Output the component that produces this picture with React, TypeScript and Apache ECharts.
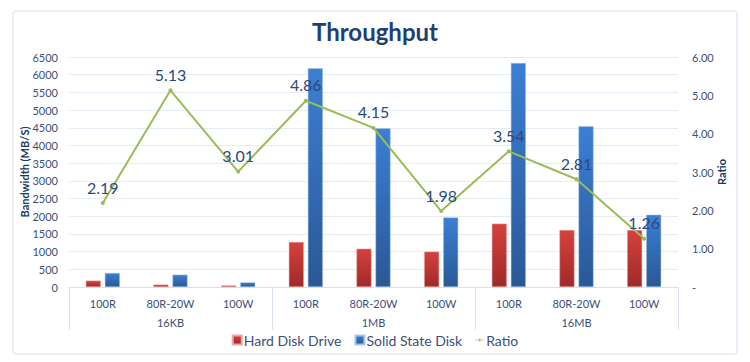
import React, { useEffect, useRef } from "react";
import * as echarts from "echarts";

const categories = ["100R", "80R-20W", "100W", "100R", "80R-20W", "100W", "100R", "80R-20W", "100W"];
const groups = ["16KB", "1MB", "16MB"];
const hddValues = [181, 68, 43, 1272, 1082, 998, 1790, 1611, 1611];
const ssdValues = [396, 348, 130, 6180, 4483, 1967, 6331, 4540, 2043];
const ratioValues = [2.19, 5.13, 3.01, 4.86, 4.15, 1.98, 3.54, 2.81, 1.26];
const seriesNames = ["Hard Disk Drive", "Solid State Disk", "Ratio"];

const FONT = "Lato, 'Open Sans', sans-serif";
const NAVY = "#203864";
const LABEL = "#3B4F7A";
const GRID = "#E6ECF5";

export default function App() {
  const ref = useRef<HTMLDivElement>(null);
  useEffect(() => {
    document.body.style.margin = "0";
    if (!ref.current) return;
    const chart = echarts.init(ref.current, undefined, { renderer: "svg" });
    chart.setOption({
      animation: false,
      backgroundColor: "#ffffff",
      textStyle: { fontFamily: FONT },
      title: {
        text: "Throughput",
        left: "center",
        top: 14,
        textStyle: { fontFamily: FONT, fontSize: 24, fontWeight: "bold", color: "#1F3F73" },
      },
      graphic: [
        {
          type: "rect",
          shape: { x: 13, y: 11, width: 724, height: 343, r: 3 },
          style: { fill: "none", stroke: "#D6E0F0", lineWidth: 1 },
          silent: true,
        },
      ],
      legend: {
        bottom: 10,
        left: "center",
        itemWidth: 9,
        itemHeight: 9,
        itemGap: 13,
        symbolKeepAspect: true,
        textStyle: { fontFamily: FONT, fontSize: 14, color: LABEL, padding: [0, 0, 0, -3] },
        data: [
          { name: seriesNames[0], icon: "rect" },
          { name: seriesNames[1], icon: "rect" },
          {
            name: seriesNames[2],
            icon: "path://M0,4.4h6v-1.4h3v1.4h6v1.2h-6v1.4h-3v-1.4h-6z",
          },
        ],
      },
      grid: { left: 69, right: 72, top: 57, bottom: 75, containLabel: false },
      xAxis: [
        {
          type: "category",
          data: categories,
          position: "bottom",
          axisLine: { show: true, lineStyle: { color: "#D9E1EE" } },
          axisTick: { show: false },
          axisLabel: { color: LABEL, fontSize: 11, margin: 11, fontFamily: FONT },
        },
        {
          type: "category",
          data: groups,
          position: "bottom",
          axisLine: { show: false },
          axisTick: { show: true, length: 43, lineStyle: { color: "#D9E1EE" } },
          axisLabel: { color: LABEL, fontSize: 11, margin: 30, fontFamily: FONT },
        },
      ],
      yAxis: [
        {
          type: "value",
          min: 0,
          max: 6500,
          interval: 500,
          name: "Bandwidth (MB/S)",
          nameLocation: "middle",
          nameRotate: 90,
          nameGap: 39,
          nameMoveOverlap: false,
          nameTextStyle: { color: NAVY, fontSize: 11, fontWeight: "bold", fontFamily: FONT },
          axisLine: { show: false },
          axisTick: { show: false },
          axisLabel: {
            color: LABEL,
            fontSize: 11,
            margin: 11,
            fontFamily: FONT,
            formatter: (v: number) => String(v),
          },
          splitLine: { show: true, lineStyle: { color: GRID } },
        },
        {
          type: "value",
          min: 0,
          max: 6,
          interval: 1,
          name: "Ratio",
          nameLocation: "middle",
          nameRotate: 90,
          nameGap: 38,
          nameMoveOverlap: false,
          nameTextStyle: { color: NAVY, fontSize: 11, fontWeight: "bold", fontFamily: FONT },
          axisLine: { show: false },
          axisTick: { show: false },
          axisLabel: {
            color: LABEL,
            fontSize: 11,
            margin: 14,
            fontFamily: FONT,
            formatter: (v: number) => (v === 0 ? "-" : v.toFixed(2)),
          },
          splitLine: { show: false },
        },
      ],
      series: [
        {
          name: seriesNames[0],
          type: "bar",
          xAxisIndex: 0,
          yAxisIndex: 0,
          data: hddValues,
          barWidth: 15,
          barGap: "27%",
          itemStyle: {
            color: new echarts.graphic.LinearGradient(0, 0, 0, 1, [
              { offset: 0, color: "#D5423C" },
              { offset: 1, color: "#A0292A" },
            ]),
            borderColor: "#E7A9A6",
            borderWidth: 0.5,
          },
        },
        {
          name: seriesNames[1],
          type: "bar",
          xAxisIndex: 0,
          yAxisIndex: 0,
          data: ssdValues,
          barWidth: 15,
          barGap: "27%",
          itemStyle: {
            color: new echarts.graphic.LinearGradient(0, 0, 0, 1, [
              { offset: 0, color: "#3B7FD4" },
              { offset: 1, color: "#2A5896" },
            ]),
            borderColor: "#A9C4EA",
            borderWidth: 0.5,
          },
        },
        {
          name: seriesNames[2],
          type: "line",
          xAxisIndex: 0,
          yAxisIndex: 1,
          data: ratioValues,
          symbol: "circle",
          symbolSize: 4,
          lineStyle: { color: "#9BBB59", width: 2 },
          itemStyle: { color: "#9BBB59" },
          label: {
            show: true,
            position: "top",
            distance: 6,
            color: "#2A4A7F",
            fontSize: 16,
            fontFamily: FONT,
            formatter: (p: any) => Number(p.value).toFixed(2),
          },
        },
      ],
    });
    return () => chart.dispose();
  }, []);
  return <div ref={ref} style={{ width: 750, height: 362 }} />;
}
